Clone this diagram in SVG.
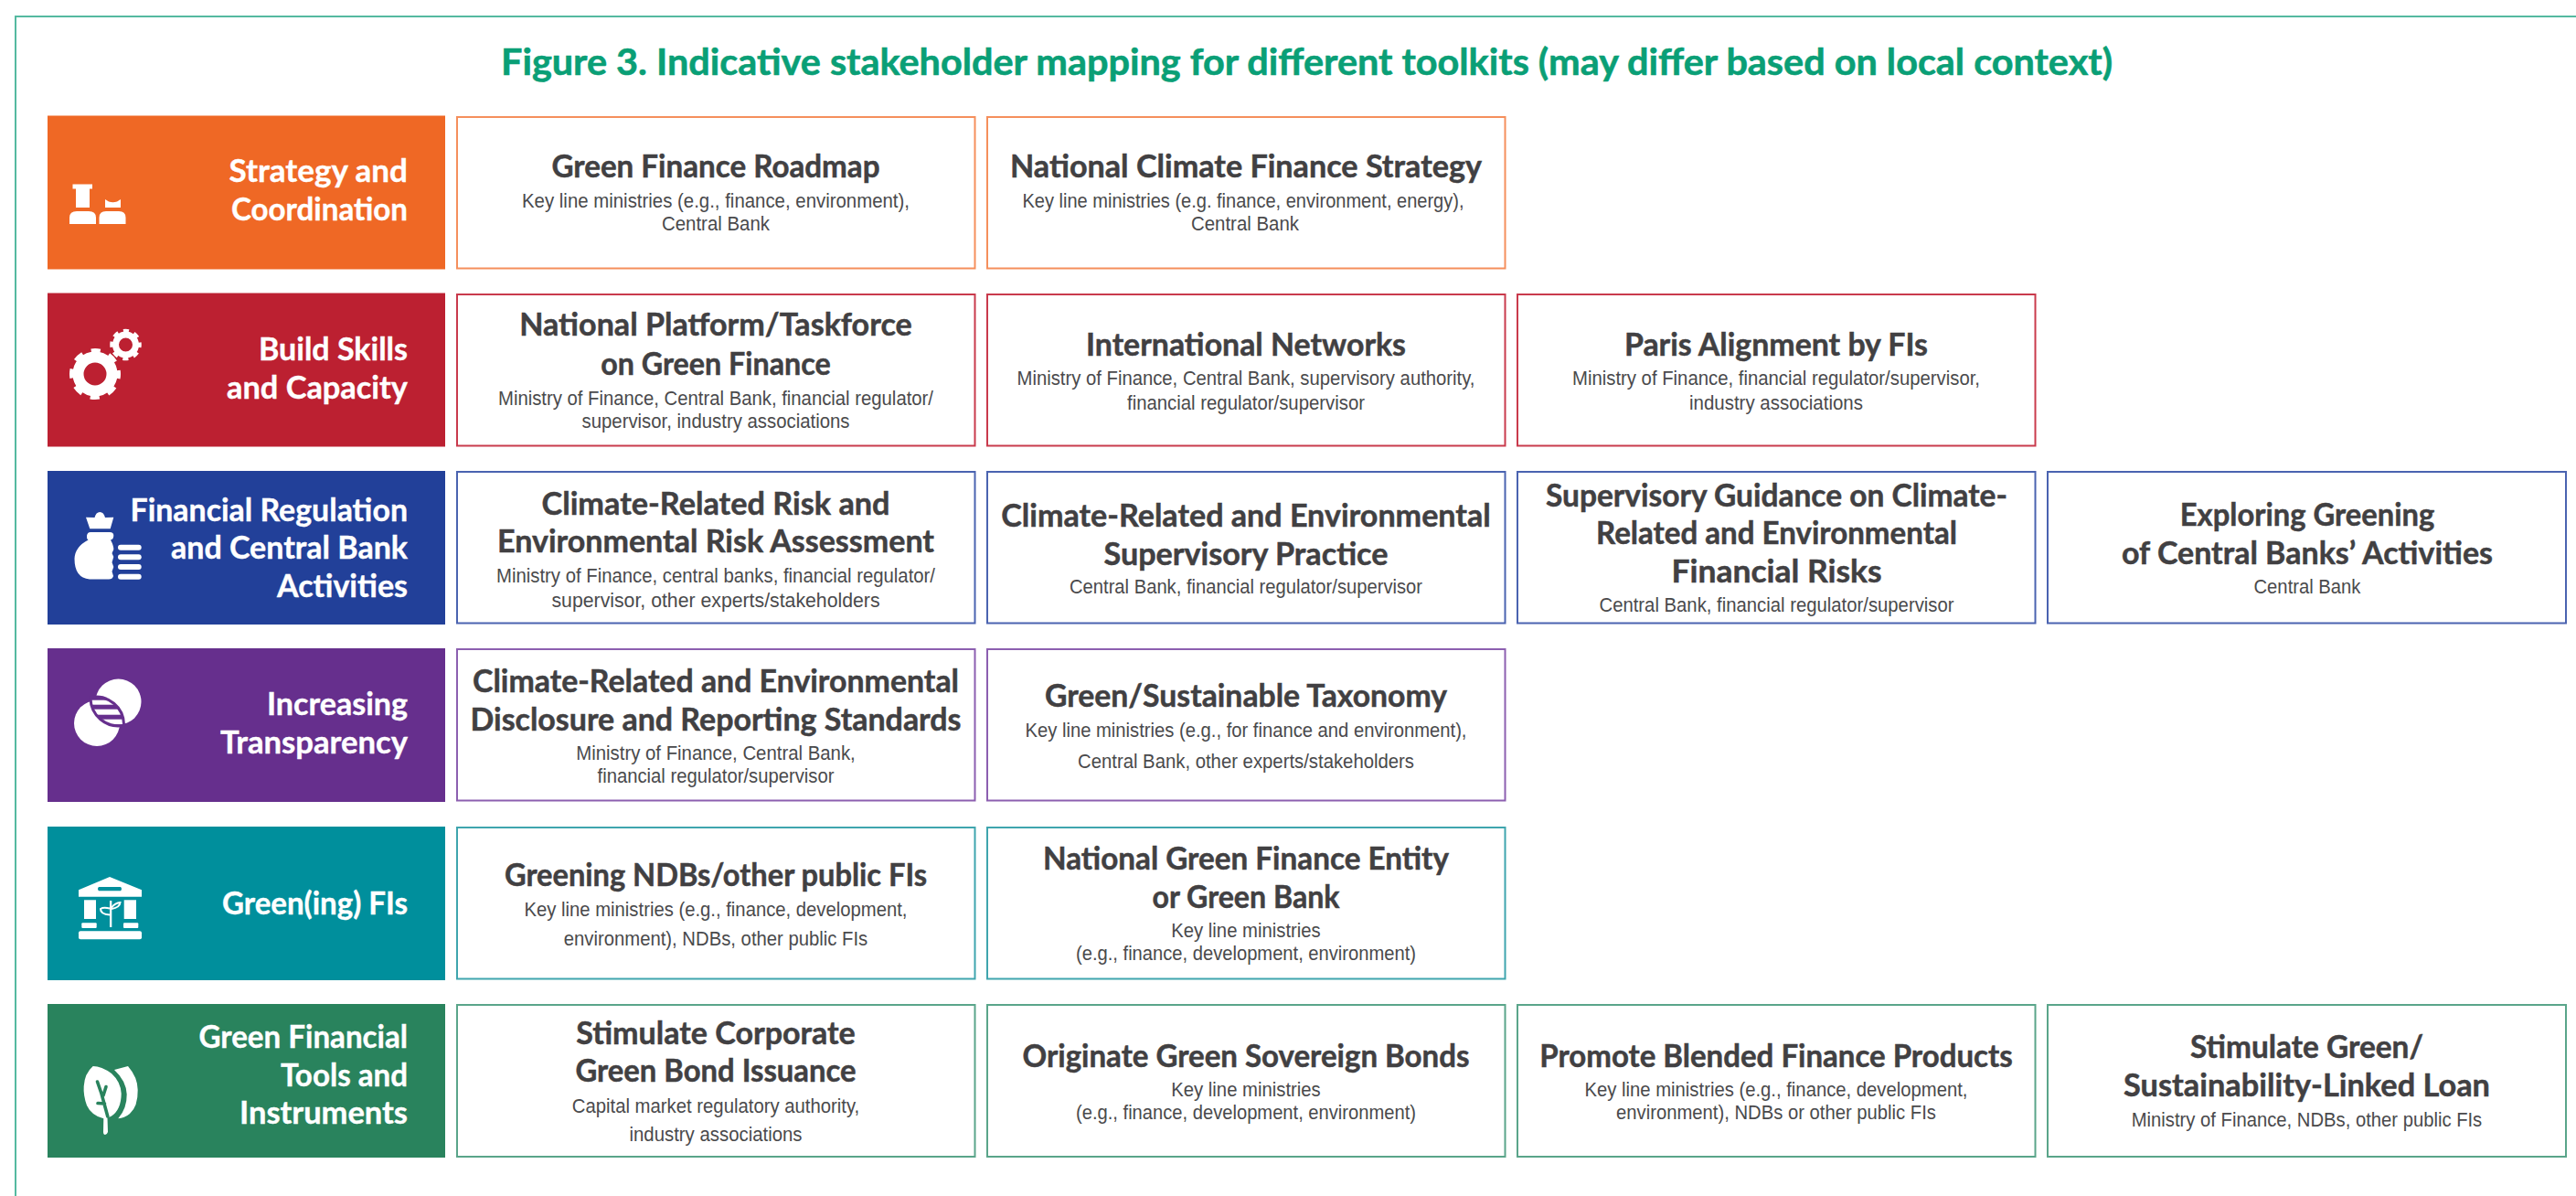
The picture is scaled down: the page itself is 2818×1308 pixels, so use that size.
<svg xmlns="http://www.w3.org/2000/svg" width="2818" height="1308" viewBox="0 0 2818 1308">
<style>
text{font-family:"Lato","Liberation Sans",sans-serif}
.h{font-weight:700;font-size:41px;fill:#0a9f76;stroke:#0a9f76;stroke-width:.6;text-anchor:middle}
.l{font-weight:700;font-size:35px;fill:#fff;stroke:#fff;stroke-width:.4;text-anchor:end}
.t{font-weight:700;font-size:35px;fill:#414042;stroke:#414042;stroke-width:.5;text-anchor:middle}
.b{font-family:"Liberation Sans",Arial,sans-serif;font-size:21.500px;fill:#4a4a4c;text-anchor:middle}
.c{fill:#fff;stroke-width:2}
.i{fill:#fff}
.or{stroke:#f58f5c}.re{stroke:#c93a4c}.bl{stroke:#4a63b0}.pu{stroke:#8c5fb0}.te{stroke:#3fa5ae}.gr{stroke:#5aa58a}
</style>
<defs>
<clipPath id="lens"><path d="M100.500 764A29 29 0 0 1 134 792A29 29 0 0 1 100.500 764Z"/></clipPath>
</defs>
<rect width="2818" height="1308" fill="#fff"/>
<path d="M17 1308V18H2818" fill="none" stroke="#55b9a0" stroke-width="2"/>
<text class="h" x="1429.500" y="82" textLength="1763" lengthAdjust="spacingAndGlyphs">Figure 3. Indicative stakeholder mapping for different toolkits (may differ based on local context)</text>

<g id="row-strategy">
<rect x="52" y="126.500" width="435" height="168" fill="#ef6825"/>
<path class="i" d="M79.500 201.500H101V206.500H98V227H83V206.500H79.500ZM76 245V238Q76 231 84 231H97Q105 231 105 238V245ZM115 218L119 220.500Q123.500 222 128 220.500L132 218V227H115ZM108.500 245V238Q108.500 231 116 231H130Q137.500 231 137.500 238V245Z"/>
<text class="l" x="446" y="199" textLength="195.500" lengthAdjust="spacingAndGlyphs">Strategy and</text>
<text class="l" x="446" y="240.700" textLength="193" lengthAdjust="spacingAndGlyphs">Coordination</text>
</g>
<g id="row-skills">
<rect x="52" y="320.500" width="435" height="168" fill="#bc2031"/>
<circle cx="104" cy="409" r="18.500" fill="none" stroke="#fff" stroke-width="12"/>
<circle cx="104" cy="409" r="25" fill="none" stroke="#fff" stroke-width="6" stroke-dasharray="10 9.630" stroke-dashoffset="5"/>
<circle cx="137.500" cy="377" r="11" fill="none" stroke="#fff" stroke-width="7"/>
<circle cx="137.500" cy="377" r="15" fill="none" stroke="#fff" stroke-width="4.500" stroke-dasharray="6 5.780" stroke-dashoffset="3"/>
<text class="l" x="446" y="394" textLength="163" lengthAdjust="spacingAndGlyphs">Build Skills</text>
<text class="l" x="446" y="435.700" textLength="198" lengthAdjust="spacingAndGlyphs">and Capacity</text>
</g>
<g id="row-regulation">
<rect x="52" y="515" width="435" height="168" fill="#224099"/>
<path class="i" d="M94 565.700L103.500 566Q105 560 109.300 560Q113.500 560 115 566L124.300 565.700L120.700 578.300H98.300Z"/>
<path class="i" d="M99 582H120Q124.500 582 124.300 586Q124 590 121 590.500Q124.500 597 124.300 601L122.500 605L124.300 609L122.500 615L124.300 620L122.500 625L124 630Q123 633.500 119 633.500H98Q81.500 632 81.500 611Q82 598 96.500 590.500Q94.500 589 95 586Q95.500 582 99 582Z"/>
<rect class="i" x="129" y="595.700" width="25.700" height="6" rx="3"/>
<rect class="i" x="129" y="606.300" width="25.700" height="6" rx="3"/>
<rect class="i" x="129" y="617" width="25.700" height="6" rx="3"/>
<rect class="i" x="129" y="627.700" width="25.700" height="6" rx="3"/>
<text class="l" x="446" y="570" textLength="303.500" lengthAdjust="spacingAndGlyphs">Financial Regulation</text>
<text class="l" x="446" y="611" textLength="259" lengthAdjust="spacingAndGlyphs">and Central Bank</text>
<text class="l" x="446" y="653" textLength="143" lengthAdjust="spacingAndGlyphs">Activities</text>
</g>
<g id="row-transparency">
<rect x="52" y="709" width="435" height="168" fill="#662f8d"/>
<circle class="i" cx="129.500" cy="767.500" r="25"/>
<circle class="i" cx="106" cy="791" r="25"/>
<path d="M100.500 764A29 29 0 0 1 134 792A29 29 0 0 1 100.500 764Z" fill="#662f8d" stroke="#662f8d" stroke-width="6"/>
<g clip-path="url(#lens)">
<rect class="i" x="95" y="765.700" width="50" height="5"/>
<rect class="i" x="95" y="775.700" width="50" height="6"/>
<rect class="i" x="95" y="786.700" width="50" height="5.600"/>
</g>
<text class="l" x="446" y="782" textLength="154" lengthAdjust="spacingAndGlyphs">Increasing</text>
<text class="l" x="446" y="824" textLength="205" lengthAdjust="spacingAndGlyphs">Transparency</text>
</g>
<g id="row-fis">
<rect x="52" y="904" width="435" height="168" fill="#008f9c"/>
<path class="i" fill-rule="evenodd" d="M120 959L155 973.300V980.700H86V973.300ZM108 970Q106 972 108 974.300H132Q134 972 132 970Z"/>
<rect class="i" x="92" y="984.300" width="13" height="20.700"/>
<rect class="i" x="135.700" y="984.300" width="13.300" height="20.700"/>
<rect class="i" x="89.300" y="1009.300" width="16.400" height="5.700" rx="1"/>
<rect class="i" x="135" y="1009.300" width="16.300" height="5.700" rx="1"/>
<rect class="i" x="86" y="1018.300" width="69" height="9" rx="2"/>
<rect class="i" x="120" y="985" width="2.300" height="29"/>
<path d="M120 993.500Q113 992 110 994Q110 1000 120 1000.500M122 992.500Q126 987.500 131.500 987Q131 992.500 122 994" fill="none" stroke="#fff" stroke-width="2"/>
<text class="l" x="446" y="1000" textLength="203" lengthAdjust="spacingAndGlyphs">Green(ing) FIs</text>
</g>
<g id="row-tools">
<rect x="52" y="1098" width="435" height="168" fill="#29835d"/>
<path class="i" d="M101.700 1166Q111 1166 122 1174Q132 1183 132.700 1196Q132.500 1214 121.700 1220.700L117.500 1222.500L118 1238Q117 1241 115 1241Q113 1241 113 1238L113.300 1223.300Q100 1220 95 1209Q91 1198 91.700 1188Q92.500 1174 101.700 1166Z"/>
<path d="M106.500 1183L111 1196L117.800 1221M116 1188.500L113 1198M107 1206.500L114.500 1207" fill="none" stroke="#29835d" stroke-width="3.600" stroke-linecap="round"/>
<path class="i" d="M125 1170L140 1166Q150.500 1178 150.700 1192Q151 1210 142 1218Q136 1223 129.300 1223.300Q139 1212 138.700 1196.700Q138 1182 125 1170Z"/>
<text class="l" x="446" y="1146" textLength="228.500" lengthAdjust="spacingAndGlyphs">Green Financial</text>
<text class="l" x="446" y="1188" textLength="139" lengthAdjust="spacingAndGlyphs">Tools and</text>
<text class="l" x="446" y="1229" textLength="184" lengthAdjust="spacingAndGlyphs">Instruments</text>
</g>

<g id="card-roadmap"><rect class="c or" x="500" y="128" width="566.500" height="165.500"/>
<text class="t" x="783" y="194" textLength="359" lengthAdjust="spacingAndGlyphs">Green Finance Roadmap</text>
<text class="b" x="783" y="227" textLength="424" lengthAdjust="spacingAndGlyphs">Key line ministries (e.g., finance, environment),</text>
<text class="b" x="783" y="252" textLength="118" lengthAdjust="spacingAndGlyphs">Central Bank</text></g>
<g id="card-strategy"><rect class="c or" x="1080" y="128" width="566.500" height="165.500"/>
<text class="t" x="1363" y="194" textLength="516" lengthAdjust="spacingAndGlyphs">National Climate Finance Strategy</text>
<text class="b" x="1360" y="227" textLength="483" lengthAdjust="spacingAndGlyphs">Key line ministries (e.g. finance, environment, energy),</text>
<text class="b" x="1362" y="252" textLength="118" lengthAdjust="spacingAndGlyphs">Central Bank</text></g>

<g id="card-platform"><rect class="c re" x="500" y="322" width="566.500" height="165.500"/>
<text class="t" x="783" y="367" textLength="429.500" lengthAdjust="spacingAndGlyphs">National Platform/Taskforce</text>
<text class="t" x="783" y="410" textLength="251.500" lengthAdjust="spacingAndGlyphs">on Green Finance</text>
<text class="b" x="783" y="442.500" textLength="476" lengthAdjust="spacingAndGlyphs">Ministry of Finance, Central Bank, financial regulator/</text>
<text class="b" x="783" y="467.500" textLength="293" lengthAdjust="spacingAndGlyphs">supervisor, industry associations</text></g>
<g id="card-networks"><rect class="c re" x="1080" y="322" width="566.500" height="165.500"/>
<text class="t" x="1363" y="388.500" textLength="350" lengthAdjust="spacingAndGlyphs">International Networks</text>
<text class="b" x="1363" y="421" textLength="501" lengthAdjust="spacingAndGlyphs">Ministry of Finance, Central Bank, supervisory authority,</text>
<text class="b" x="1363" y="448" textLength="260" lengthAdjust="spacingAndGlyphs">financial regulator/supervisor</text></g>
<g id="card-paris"><rect class="c re" x="1660" y="322" width="566.500" height="165.500"/>
<text class="t" x="1943" y="388.500" textLength="332" lengthAdjust="spacingAndGlyphs">Paris Alignment by FIs</text>
<text class="b" x="1943" y="421" textLength="446" lengthAdjust="spacingAndGlyphs">Ministry of Finance, financial regulator/supervisor,</text>
<text class="b" x="1943" y="448" textLength="190" lengthAdjust="spacingAndGlyphs">industry associations</text></g>

<g id="card-risk"><rect class="c bl" x="500" y="516" width="566.500" height="165.500"/>
<text class="t" x="783" y="562.500" textLength="381" lengthAdjust="spacingAndGlyphs">Climate-Related Risk and</text>
<text class="t" x="783" y="604" textLength="478" lengthAdjust="spacingAndGlyphs">Environmental Risk Assessment</text>
<text class="b" x="783" y="636.500" textLength="480" lengthAdjust="spacingAndGlyphs">Ministry of Finance, central banks, financial regulator/</text>
<text class="b" x="783" y="663.500" textLength="359" lengthAdjust="spacingAndGlyphs">supervisor, other experts/stakeholders</text></g>
<g id="card-practice"><rect class="c bl" x="1080" y="516" width="566.500" height="165.500"/>
<text class="t" x="1363" y="575.500" textLength="535.500" lengthAdjust="spacingAndGlyphs">Climate-Related and Environmental</text>
<text class="t" x="1363" y="617.500" textLength="311" lengthAdjust="spacingAndGlyphs">Supervisory Practice</text>
<text class="b" x="1363" y="649.300" textLength="386" lengthAdjust="spacingAndGlyphs">Central Bank, financial regulator/supervisor</text></g>
<g id="card-guidance"><rect class="c bl" x="1660" y="516" width="566.500" height="165.500"/>
<text class="t" x="1943.500" y="553.500" textLength="505" lengthAdjust="spacingAndGlyphs">Supervisory Guidance on Climate-</text>
<text class="t" x="1943.500" y="595" textLength="395" lengthAdjust="spacingAndGlyphs">Related and Environmental</text>
<text class="t" x="1943.500" y="636.500" textLength="230" lengthAdjust="spacingAndGlyphs">Financial Risks</text>
<text class="b" x="1943.500" y="669" textLength="388" lengthAdjust="spacingAndGlyphs">Central Bank, financial regulator/supervisor</text></g>
<g id="card-greening-cb"><rect class="c bl" x="2240" y="516" width="567" height="165.500"/>
<text class="t" x="2524" y="575" textLength="278.500" lengthAdjust="spacingAndGlyphs">Exploring Greening</text>
<text class="t" x="2524" y="616.500" textLength="406" lengthAdjust="spacingAndGlyphs">of Central Banks’ Activities</text>
<text class="b" x="2524" y="649.300" textLength="117" lengthAdjust="spacingAndGlyphs">Central Bank</text></g>

<g id="card-disclosure"><rect class="c pu" x="500" y="710" width="566.500" height="165.500"/>
<text class="t" x="783" y="757" textLength="532" lengthAdjust="spacingAndGlyphs">Climate-Related and Environmental</text>
<text class="t" x="783" y="798.500" textLength="537" lengthAdjust="spacingAndGlyphs">Disclosure and Reporting Standards</text>
<text class="b" x="783" y="830.500" textLength="305.500" lengthAdjust="spacingAndGlyphs">Ministry of Finance, Central Bank,</text>
<text class="b" x="783" y="856" textLength="259" lengthAdjust="spacingAndGlyphs">financial regulator/supervisor</text></g>
<g id="card-taxonomy"><rect class="c pu" x="1080" y="710" width="566.500" height="165.500"/>
<text class="t" x="1363" y="773" textLength="440" lengthAdjust="spacingAndGlyphs">Green/Sustainable Taxonomy</text>
<text class="b" x="1363" y="805.500" textLength="483" lengthAdjust="spacingAndGlyphs">Key line ministries (e.g., for finance and environment),</text>
<text class="b" x="1363" y="839.500" textLength="368" lengthAdjust="spacingAndGlyphs">Central Bank, other experts/stakeholders</text></g>

<g id="card-ndbs"><rect class="c te" x="500" y="905" width="566.500" height="165.500"/>
<text class="t" x="783" y="969" textLength="462" lengthAdjust="spacingAndGlyphs">Greening NDBs/other public FIs</text>
<text class="b" x="783" y="1001.500" textLength="419" lengthAdjust="spacingAndGlyphs">Key line ministries (e.g., finance, development,</text>
<text class="b" x="783" y="1033.500" textLength="332.500" lengthAdjust="spacingAndGlyphs">environment), NDBs, other public FIs</text></g>
<g id="card-entity"><rect class="c te" x="1080" y="905" width="566.500" height="165.500"/>
<text class="t" x="1363" y="951" textLength="444" lengthAdjust="spacingAndGlyphs">National Green Finance Entity</text>
<text class="t" x="1363" y="992.500" textLength="205" lengthAdjust="spacingAndGlyphs">or Green Bank</text>
<text class="b" x="1363" y="1024.500" textLength="163.500" lengthAdjust="spacingAndGlyphs">Key line ministries</text>
<text class="b" x="1363" y="1050" textLength="372" lengthAdjust="spacingAndGlyphs">(e.g., finance, development, environment)</text></g>

<g id="card-corporate"><rect class="c gr" x="500" y="1099" width="566.500" height="166"/>
<text class="t" x="783" y="1141.500" textLength="305.500" lengthAdjust="spacingAndGlyphs">Stimulate Corporate</text>
<text class="t" x="783" y="1183" textLength="307" lengthAdjust="spacingAndGlyphs">Green Bond Issuance</text>
<text class="b" x="783" y="1217" textLength="314.500" lengthAdjust="spacingAndGlyphs">Capital market regulatory authority,</text>
<text class="b" x="783" y="1247.500" textLength="189" lengthAdjust="spacingAndGlyphs">industry associations</text></g>
<g id="card-sovereign"><rect class="c gr" x="1080" y="1099" width="566.500" height="166"/>
<text class="t" x="1363" y="1166.500" textLength="489" lengthAdjust="spacingAndGlyphs">Originate Green Sovereign Bonds</text>
<text class="b" x="1363" y="1199" textLength="163.500" lengthAdjust="spacingAndGlyphs">Key line ministries</text>
<text class="b" x="1363" y="1224.300" textLength="372" lengthAdjust="spacingAndGlyphs">(e.g., finance, development, environment)</text></g>
<g id="card-blended"><rect class="c gr" x="1660" y="1099" width="566.500" height="166"/>
<text class="t" x="1943" y="1166.500" textLength="517.500" lengthAdjust="spacingAndGlyphs">Promote Blended Finance Products</text>
<text class="b" x="1943" y="1199" textLength="419" lengthAdjust="spacingAndGlyphs">Key line ministries (e.g., finance, development,</text>
<text class="b" x="1943" y="1224.300" textLength="350" lengthAdjust="spacingAndGlyphs">environment), NDBs or other public FIs</text></g>
<g id="card-loan"><rect class="c gr" x="2240" y="1099" width="567" height="166"/>
<text class="t" x="2523.500" y="1157" textLength="255" lengthAdjust="spacingAndGlyphs">Stimulate Green/</text>
<text class="t" x="2523.500" y="1199" textLength="401" lengthAdjust="spacingAndGlyphs">Sustainability-Linked Loan</text>
<text class="b" x="2523.500" y="1231.500" textLength="383.500" lengthAdjust="spacingAndGlyphs">Ministry of Finance, NDBs, other public FIs</text></g>
</svg>
